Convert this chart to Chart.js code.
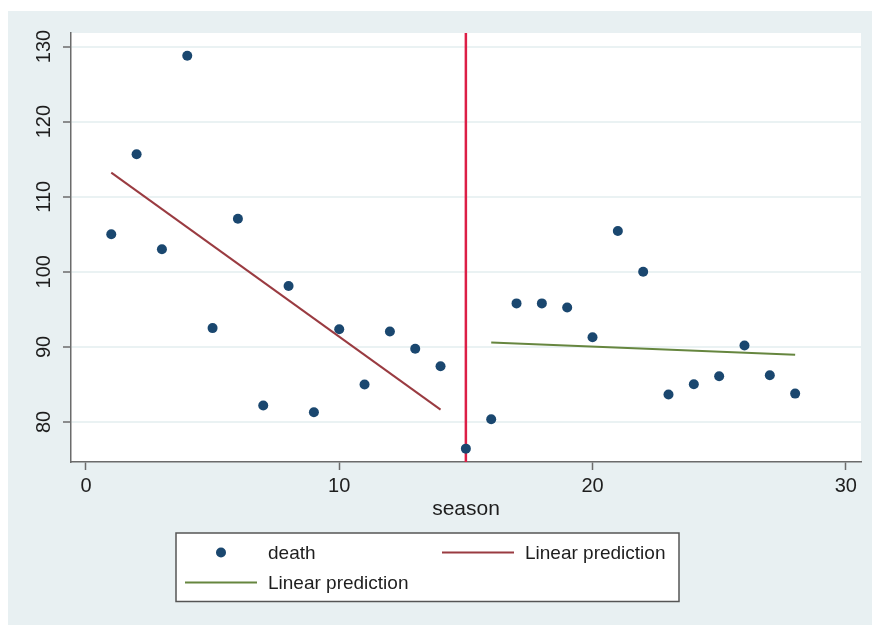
<!DOCTYPE html>
<html>
<head>
<meta charset="utf-8">
<script src="https://cdn.jsdelivr.net/npm/chart.js@4"></script>
<style>
  html, body { margin: 0; padding: 0; background: #ffffff; }
  #wrap { width: 872px; height: 625px; }
</style>
</head>
<body>
<div id="wrap"><canvas id="c" width="872" height="625"></canvas></div>
<script>
// Observed deaths per season
const seasons = [1, 2, 3, 4, 5, 6, 7, 8, 9, 10, 11, 12, 13, 14,
                 15, 16, 17, 18, 19, 20, 21, 22, 23, 24, 25, 26, 27, 28];
const deaths  = [105.0, 115.65, 103.0, 128.76, 92.5, 107.07, 82.2, 98.1, 81.3, 92.36, 84.98, 92.05, 89.74, 87.43,
                 76.45, 80.36, 95.79, 95.79, 95.25, 91.29, 105.43, 100.0, 83.65, 85.03, 86.09, 90.18, 86.23, 83.78];

// Fitted lines before and after the break
const fitBeforeX = [1, 14];
const fitBeforeY = [113.2, 81.65];
const fitAfterX  = [16, 28];
const fitAfterY  = [90.59, 88.94];

// Break point marked with a vertical line
const breakSeason = 15;

// Axis ticks and ranges
const xTicks = [0, 10, 20, 30];
const yTicks = [80, 90, 100, 110, 120, 130];
const xRange = [-0.59, 30.6];
const yRange = [74.67, 131.8];

const FONT = '"Liberation Sans", Arial, Helvetica, sans-serif';
const TEXT = '#1e1e1e';
const AXIS = '#6b6b6b';

const pts = (xs, ys) => xs.map((x, i) => ({ x: x, y: ys[i] }));

// Background panel + white plot region
const backdrop = {
  id: 'backdrop',
  beforeDraw(chart) {
    const { ctx, chartArea: a } = chart;
    ctx.save();
    ctx.fillStyle = '#ffffff';
    ctx.fillRect(0, 0, chart.width, chart.height);
    ctx.fillStyle = '#e8f0f2';
    ctx.fillRect(8, 11, chart.width - 8, chart.height - 11);
    ctx.fillStyle = '#ffffff';
    ctx.fillRect(a.left, a.top, a.right - a.left, a.bottom - a.top);
    ctx.restore();
  }
};

// Vertical break line, behind the markers
const breakLine = {
  id: 'breakLine',
  beforeDatasetsDraw(chart) {
    const { ctx, chartArea: a, scales } = chart;
    const px = scales.x.getPixelForValue(breakSeason);
    ctx.save();
    ctx.strokeStyle = '#dc1e46';
    ctx.lineWidth = 2.5;
    ctx.beginPath();
    ctx.moveTo(px, a.top);
    ctx.lineTo(px, a.bottom);
    ctx.stroke();
    ctx.restore();
  }
};

// Rotated y tick labels and the x axis title
const axisText = {
  id: 'axisText',
  afterDraw(chart) {
    const { ctx, chartArea: a, scales } = chart;
    ctx.save();
    ctx.fillStyle = TEXT;
    ctx.font = '20px ' + FONT;
    ctx.textAlign = 'center';
    ctx.textBaseline = 'middle';
    yTicks.forEach(v => {
      const py = scales.y.getPixelForValue(v);
      ctx.save();
      ctx.translate(44.5, py);
      ctx.rotate(-Math.PI / 2);
      ctx.fillText(String(v), 0, 0);
      ctx.restore();
    });
    ctx.font = '21px ' + FONT;
    ctx.fillText('season', (a.left + a.right) / 2, 509);
    ctx.restore();
  }
};

// Boxed two-column legend under the plot
const boxLegend = {
  id: 'boxLegend',
  afterDraw(chart) {
    const { ctx } = chart;
    const ds = chart.data.datasets;
    ctx.save();
    ctx.fillStyle = '#ffffff';
    ctx.fillRect(176, 533, 503, 68.5);
    ctx.strokeStyle = '#555555';
    ctx.lineWidth = 1.5;
    ctx.strokeRect(176, 533, 503, 68.5);

    const slots = [
      { kx0: 185, kx1: 257, tx: 268, y: 552.5 },
      { kx0: 442, kx1: 514, tx: 525, y: 552.5 },
      { kx0: 185, kx1: 257, tx: 268, y: 582.5 }
    ];
    ctx.font = '19px ' + FONT;
    ctx.textBaseline = 'middle';
    ctx.textAlign = 'left';
    ds.forEach((d, i) => {
      const s = slots[i];
      if (d.type === 'scatter') {
        ctx.fillStyle = d.backgroundColor;
        ctx.beginPath();
        ctx.arc((s.kx0 + s.kx1) / 2, s.y, d.pointRadius, 0, Math.PI * 2);
        ctx.fill();
      } else {
        ctx.strokeStyle = d.borderColor;
        ctx.lineWidth = d.borderWidth;
        ctx.beginPath();
        ctx.moveTo(s.kx0, s.y);
        ctx.lineTo(s.kx1, s.y);
        ctx.stroke();
      }
      ctx.fillStyle = TEXT;
      ctx.fillText(d.label, s.tx, s.y + 1);
    });
    ctx.restore();
  }
};

new Chart(document.getElementById('c'), {
  data: {
    datasets: [
      {
        type: 'scatter',
        label: 'death',
        data: pts(seasons, deaths),
        backgroundColor: '#1a476f',
        borderWidth: 0,
        pointRadius: 5,
        order: 2
      },
      {
        type: 'line',
        label: 'Linear prediction',
        data: pts(fitBeforeX, fitBeforeY),
        borderColor: '#9a3b41',
        borderWidth: 2,
        pointRadius: 0,
        fill: false,
        order: 1
      },
      {
        type: 'line',
        label: 'Linear prediction',
        data: pts(fitAfterX, fitAfterY),
        borderColor: '#66863f',
        borderWidth: 2,
        pointRadius: 0,
        fill: false,
        order: 1
      }
    ]
  },
  options: {
    responsive: false,
    animation: false,
    layout: { padding: { left: 0, right: 11, top: 33, bottom: 0 } },
    plugins: {
      legend: { display: false },
      tooltip: { enabled: false }
    },
    scales: {
      x: {
        type: 'linear',
        min: xRange[0],
        max: xRange[1],
        afterBuildTicks(scale) { scale.ticks = xTicks.map(v => ({ value: v })); },
        afterFit(scale) { scale.height = 163; },
        ticks: {
          color: TEXT,
          font: { family: FONT, size: 20 },
          padding: 4,
          maxRotation: 0,
          autoSkip: false
        },
        grid: {
          drawOnChartArea: false,
          drawTicks: true,
          tickLength: 8,
          tickColor: AXIS,
          tickWidth: 1.5
        },
        border: { display: true, color: AXIS, width: 1.5 }
      },
      y: {
        type: 'linear',
        min: yRange[0],
        max: yRange[1],
        afterBuildTicks(scale) { scale.ticks = yTicks.map(v => ({ value: v })); },
        afterFit(scale) { scale.width = 71; },
        ticks: { display: false },
        grid: {
          color: '#eaf2f3',
          lineWidth: 2,
          drawTicks: true,
          tickLength: 8,
          tickColor: AXIS,
          tickWidth: 1.5
        },
        border: { display: true, color: AXIS, width: 1.5 }
      }
    }
  },
  plugins: [backdrop, breakLine, axisText, boxLegend]
});
</script>
</body>
</html>
